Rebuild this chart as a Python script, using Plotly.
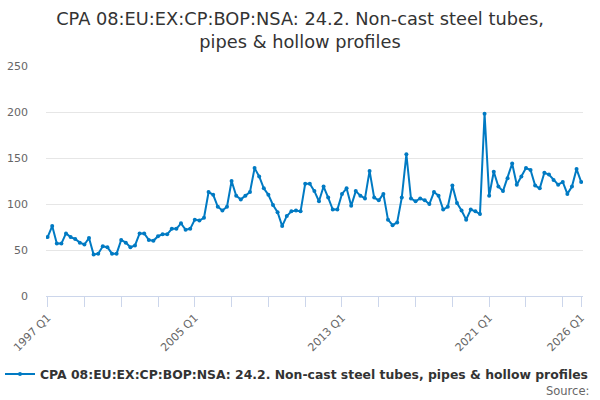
import plotly.graph_objects as go

# quarterly values, 1997 Q1 .. 2026 Q1
years = list(range(1997, 2027))
quarters = [f'{y} Q{q}' for y in years for q in range(1, 5)][:117]

values = [
    64, 76, 57, 57, 68, 64, 62, 58, 56, 63,
    45, 46, 54, 53, 46, 46, 61, 58, 53, 55,
    68, 68, 61, 60, 65, 67, 67, 73, 73, 79,
    72, 73, 83, 82, 85, 113, 110, 97, 93, 97,
    125, 109, 105, 109, 113, 139, 130, 117, 110, 99,
    91, 76, 87, 92, 93, 92, 122, 122, 114, 103,
    119, 107, 94, 94, 111, 117, 98, 114, 109, 106,
    136, 107, 104, 111, 83, 77, 80, 107, 154, 106,
    103, 106, 104, 100, 113, 109, 94, 97, 120, 101,
    93, 83, 94, 92, 89, 198, 109, 135, 119, 114,
    128, 144, 121, 130, 139, 137, 120, 117, 134, 132,
    126, 121, 124, 111, 119, 138, 124,
]

series_name = 'CPA 08:EU:EX:CP:BOP:NSA: 24.2. Non-cast steel tubes, pipes & hollow profiles'
title = 'CPA 08:EU:EX:CP:BOP:NSA: 24.2. Non-cast steel tubes,<br>pipes & hollow profiles'

idx = list(range(len(values)))

# tick every 2 years, label every 8 years plus the last one
tick_vals = list(range(0, len(values), 8))
tick_text = [quarters[i] if i % 32 == 0 else '' for i in tick_vals]
tick_vals.append(len(values) - 1)
tick_text.append(quarters[-1])

fig = go.Figure()
fig.add_trace(go.Scatter(
    x=idx,
    y=values,
    mode='lines+markers',
    name=series_name,
    line=dict(color='#007ac3', width=2),
    marker=dict(color='#007ac3', size=4),
))

fig.update_layout(
    width=600,
    height=400,
    paper_bgcolor='white',
    plot_bgcolor='white',
    font=dict(family='DejaVu Sans', color='#333333'),
    title=dict(text=title, x=0.5, xanchor='center', y=0.937, yanchor='middle',
               font=dict(size=17.8, color='#333333')),
    margin=dict(l=46, r=17, t=66, b=103),
    showlegend=True,
    legend=dict(orientation='h', x=0.465, xanchor='center', y=-0.27, yanchor='top',
                itemwidth=30,
                font=dict(size=12.4, color='#333333', weight='bold')),
    xaxis=dict(
        range=[-0.35, 116.4],
        tickmode='array',
        tickvals=tick_vals,
        ticktext=tick_text,
        tickangle=-45,
        ticks='outside',
        ticklen=10,
        tickcolor='#ccd6eb',
        showline=True,
        linecolor='#ccd6eb',
        showgrid=False,
        zeroline=False,
        automargin=False,
        tickfont=dict(size=11, color='#666666'),
    ),
    yaxis=dict(
        range=[0, 250],
        tickvals=[0, 50, 100, 150, 200, 250],
        gridcolor='#e6e6e6',
        zeroline=False,
        automargin=False,
        tickfont=dict(size=11, color='#666666'),
        ticklabelstandoff=17,
    ),
    annotations=[dict(
        text='Source:', xref='paper', yref='paper', x=1.015, y=-0.375,
        xanchor='right', yanchor='top', showarrow=False,
        font=dict(size=11.5, color='#666666'),
    )],
)

fig.write_html('out.html', config={'displayModeBar': False})

# drop the default page margin so the figure sits at the window corner
with open('out.html', encoding='utf-8') as f:
    page = f.read()
page = page.replace('<head>', '<head><style>body{margin:0;}</style>', 1)
with open('out.html', 'w', encoding='utf-8') as f:
    f.write(page)
